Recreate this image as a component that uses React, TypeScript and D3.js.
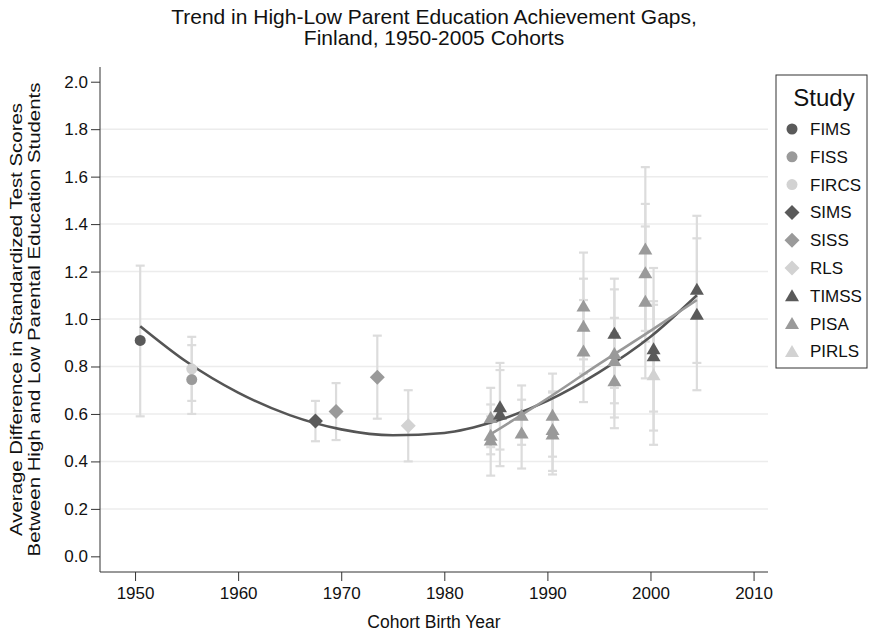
import { useEffect, useRef } from "react";
import * as d3 from "d3";

// studies shown in the legend
const studies = ["FIMS", "FISS", "FIRCS", "SIMS", "SISS", "RLS", "TIMSS", "PISA", "PIRLS"];

// each estimate: study, cohort year, gap, lower and upper bound
const pointStudy = [
  "FIMS", "FISS", "FIRCS", "SIMS", "SISS", "SISS", "RLS",
  "PISA", "PISA", "PISA", "TIMSS", "TIMSS",
  "PISA", "PISA", "PISA", "PISA", "PISA",
  "PISA", "PISA", "PISA",
  "TIMSS", "PISA", "PISA", "PISA",
  "PISA", "PISA", "PISA",
  "TIMSS", "TIMSS", "PIRLS",
  "TIMSS", "TIMSS",
];
const pointYear = [
  1950.5, 1955.5, 1955.5, 1967.5, 1969.5, 1973.5, 1976.5,
  1984.5, 1984.5, 1984.5, 1985.4, 1985.4,
  1987.5, 1987.5, 1990.5, 1990.5, 1990.5,
  1993.5, 1993.5, 1993.5,
  1996.5, 1996.5, 1996.5, 1996.5,
  1999.5, 1999.5, 1999.5,
  2000.3, 2000.3, 2000.3,
  2004.5, 2004.5,
];
const pointValue = [
  0.91, 0.745, 0.79, 0.57, 0.61, 0.755, 0.55,
  0.585, 0.51, 0.49, 0.63, 0.6,
  0.595, 0.52, 0.595, 0.535, 0.515,
  1.055, 0.97, 0.865,
  0.94, 0.855, 0.825, 0.74,
  1.295, 1.195, 1.075,
  0.875, 0.845, 0.765,
  1.125, 1.02,
];
const pointLow = [
  0.59, 0.6, 0.655, 0.485, 0.49, 0.58, 0.4,
  0.46, 0.43, 0.34, 0.45, 0.38,
  0.47, 0.37, 0.42, 0.36, 0.345,
  0.83, 0.77, 0.65,
  0.71, 0.585, 0.645, 0.54,
  0.95, 0.905, 0.75,
  0.53, 0.61, 0.47,
  0.815, 0.7,
];
const pointHigh = [
  1.225, 0.89, 0.925, 0.655, 0.73, 0.93, 0.7,
  0.71, 0.59, 0.64, 0.815, 0.785,
  0.72, 0.66, 0.77, 0.69, 0.695,
  1.28, 1.17, 1.08,
  1.17, 1.125, 1.005, 0.94,
  1.64, 1.485, 1.39,
  1.215, 1.075, 1.06,
  1.435, 1.34,
];

// fitted trend lines (all studies, and the recent PISA/TIMSS/PIRLS ones)
const fitAllYears = [1950.5, 1955, 1960, 1965, 1970, 1975, 1980, 1985, 1990, 1995, 2000, 2004.5];
const fitAllValues = [0.97, 0.82, 0.69, 0.595, 0.535, 0.51, 0.52, 0.57, 0.655, 0.775, 0.925, 1.1];
const fitRecentYears = [1984.5, 1990, 1995, 2000, 2004.5];
const fitRecentValues = [0.515, 0.665, 0.81, 0.95, 1.08];

const xTicks = [1950, 1960, 1970, 1980, 1990, 2000, 2010];
const yTicks = [0, 0.2, 0.4, 0.6, 0.8, 1.0, 1.2, 1.4, 1.6, 1.8, 2.0];

const shade: any = {
  FIMS: "#5a5a5a", FISS: "#9a9a9a", FIRCS: "#d2d2d2",
  SIMS: "#5a5a5a", SISS: "#9a9a9a", RLS: "#d2d2d2",
  TIMSS: "#5a5a5a", PISA: "#9a9a9a", PIRLS: "#d2d2d2",
};
const shape: any = {
  FIMS: "circle", FISS: "circle", FIRCS: "circle",
  SIMS: "diamond", SISS: "diamond", RLS: "diamond",
  TIMSS: "triangle", PISA: "triangle", PIRLS: "triangle",
};

const FONT = "'Liberation Sans', Arial, Helvetica, sans-serif";

const markerPath = (kind: string) => {
  if (kind === "circle") return "M0,-5.5A5.5,5.5 0 1,1 0,5.5A5.5,5.5 0 1,1 0,-5.5Z";
  if (kind === "diamond") return "M0,-7.5L7.5,0L0,7.5L-7.5,0Z";
  return "M0,-6.5L7,5.5L-7,5.5Z";
};

const GapChart = () => {
  const svgRef = useRef(null);

  useEffect(() => {
    if (!svgRef.current) return;
    d3.select(svgRef.current).selectAll("*").remove();

    const left = 100;
    const right = 768;
    const top = 67;
    const bottom = 572;

    const svg = d3.select(svgRef.current).attr("width", 870).attr("height", 634);

    svg.append("rect").attr("width", 870).attr("height", 634).attr("fill", "#fff");

    const x = d3.scaleLinear().domain([1946.6, 2011.4]).range([left, right]);
    const y = d3.scaleLinear().domain([-0.066, 2.062]).range([bottom, top]);

    // grid lines
    svg
      .append("g")
      .selectAll("line")
      .data(yTicks.filter((t) => t > 0 && t < 2))
      .join("line")
      .attr("x1", left)
      .attr("x2", right)
      .attr("y1", (d) => y(d))
      .attr("y2", (d) => y(d))
      .attr("stroke", "#ececec")
      .attr("stroke-width", 1.5);

    // axes
    const yAxis = d3
      .axisLeft(y)
      .tickValues(yTicks)
      .tickSize(9)
      .tickPadding(3)
      .tickFormat((d: any) => d3.format(".1f")(d));
    const gy = svg.append("g").attr("transform", `translate(${left},0)`).call(yAxis);
    gy.select(".domain").remove();
    gy.append("line").attr("x1", 0).attr("x2", 0).attr("y1", top).attr("y2", bottom).attr("stroke", "#333");

    const xAxis = d3.axisBottom(x).tickValues(xTicks).tickSize(9).tickPadding(6).tickFormat(d3.format("d"));
    const gx = svg.append("g").attr("transform", `translate(0,${bottom})`).call(xAxis);
    gx.select(".domain").remove();
    gx.append("line").attr("x1", left).attr("x2", right).attr("y1", 0).attr("y2", 0).attr("stroke", "#333");

    [gx, gy].forEach((g) => {
      g.selectAll(".tick line").attr("stroke", "#333");
      g.selectAll(".tick text").attr("font-family", FONT).attr("font-size", 17).attr("fill", "#111");
    });

    const points = pointYear.map((yr, i) => ({
      year: yr,
      value: pointValue[i],
      low: pointLow[i],
      high: pointHigh[i],
      study: pointStudy[i],
    }));

    // error bars
    const bars = svg.append("g").attr("stroke", "#dcdcdc").attr("stroke-width", 2.2);
    points.forEach((d) => {
      const cx = x(d.year);
      bars.append("line").attr("x1", cx).attr("x2", cx).attr("y1", y(d.low)).attr("y2", y(d.high));
      bars.append("line").attr("x1", cx - 4.5).attr("x2", cx + 4.5).attr("y1", y(d.low)).attr("y2", y(d.low));
      bars.append("line").attr("x1", cx - 4.5).attr("x2", cx + 4.5).attr("y1", y(d.high)).attr("y2", y(d.high));
    });

    // fitted lines
    const line = d3
      .line<any>()
      .x((d) => x(d[0]))
      .y((d) => y(d[1]))
      .curve(d3.curveMonotoneX);

    svg
      .append("path")
      .datum(fitAllYears.map((yr, i) => [yr, fitAllValues[i]]))
      .attr("fill", "none")
      .attr("stroke", "#555")
      .attr("stroke-width", 2.6)
      .attr("d", line);

    svg
      .append("path")
      .datum(fitRecentYears.map((yr, i) => [yr, fitRecentValues[i]]))
      .attr("fill", "none")
      .attr("stroke", "#999")
      .attr("stroke-width", 2.6)
      .attr("d", line);

    // markers
    svg
      .append("g")
      .selectAll("path")
      .data(points)
      .join("path")
      .attr("transform", (d) => `translate(${x(d.year)},${y(d.value)})`)
      .attr("d", (d) => markerPath(shape[d.study]))
      .attr("fill", (d) => shade[d.study]);

    // title
    const title = svg
      .append("text")
      .attr("text-anchor", "middle")
      .attr("font-family", FONT)
      .attr("font-size", 21)
      .attr("fill", "#111");
    title.append("tspan").attr("x", 434).attr("y", 24).text("Trend in High-Low Parent Education Achievement Gaps,");
    title.append("tspan").attr("x", 434).attr("y", 45).text("Finland, 1950-2005 Cohorts");

    // axis titles
    svg
      .append("text")
      .attr("x", (left + right) / 2)
      .attr("y", 628)
      .attr("text-anchor", "middle")
      .attr("font-family", FONT)
      .attr("font-size", 17.5)
      .attr("fill", "#111")
      .text("Cohort Birth Year");

    const yTitle = svg
      .append("text")
      .attr("transform", `translate(0,${(top + bottom) / 2}) rotate(-90) scale(1.2,1)`)
      .attr("text-anchor", "middle")
      .attr("font-family", FONT)
      .attr("font-size", 17)
      .attr("fill", "#111");
    yTitle.append("tspan").attr("x", 0).attr("y", 22).text("Average Difference in Standardized Test Scores");
    yTitle.append("tspan").attr("x", 0).attr("y", 40).text("Between High and Low Parental Education Students");

    // legend
    const legend = svg.append("g").attr("transform", "translate(776,75)");
    legend
      .append("rect")
      .attr("width", 91)
      .attr("height", 293)
      .attr("fill", "#fff")
      .attr("stroke", "#333")
      .attr("stroke-width", 1);
    legend
      .append("text")
      .attr("x", 48)
      .attr("y", 31)
      .attr("text-anchor", "middle")
      .attr("font-family", FONT)
      .attr("font-size", 24)
      .attr("fill", "#111")
      .text("Study");

    studies.forEach((s, i) => {
      const cy = 54 + i * 27.8;
      legend
        .append("path")
        .attr("transform", `translate(16,${cy})`)
        .attr("d", markerPath(shape[s]))
        .attr("fill", shade[s]);
      legend
        .append("text")
        .attr("x", 34)
        .attr("y", cy + 6)
        .attr("font-family", FONT)
        .attr("font-size", 17)
        .attr("fill", "#111")
        .text(s);
    });
  }, []);

  return <svg ref={svgRef} style={{ position: "absolute", left: 0, top: 0 }} />;
};

export default function App() {
  return <GapChart />;
}
